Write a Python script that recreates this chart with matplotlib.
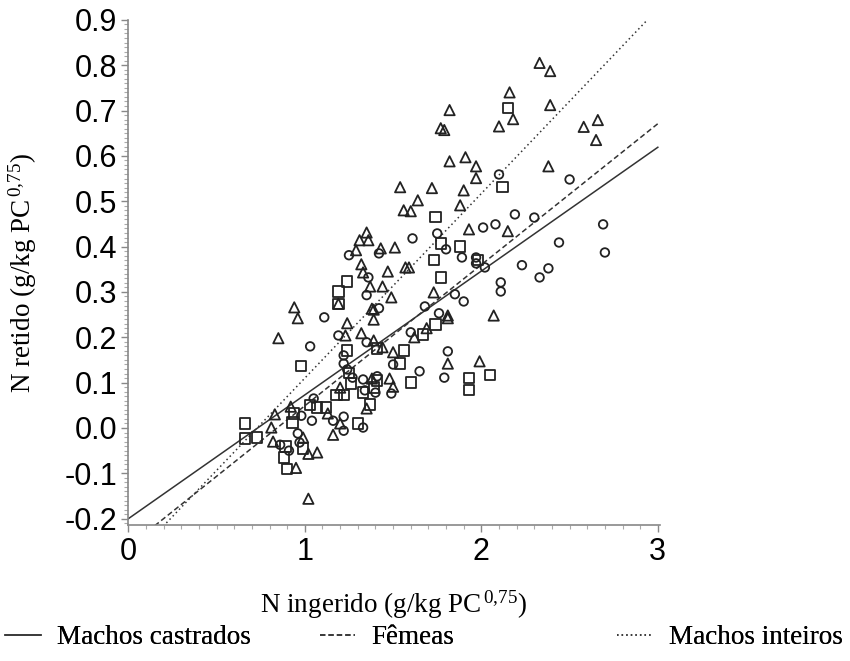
import matplotlib
matplotlib.use("Agg")
import matplotlib.pyplot as plt
import numpy as np
from matplotlib.ticker import MultipleLocator, FormatStrFormatter

plt.rcParams["mathtext.fontset"] = "custom"
plt.rcParams["mathtext.rm"] = "Liberation Serif"
plt.rcParams["mathtext.it"] = "Liberation Serif"

# Machos castrados (circles)
castrados_x = [2.10, 2.50, 2.19, 2.30, 2.01, 2.08, 1.75, 1.80, 2.69, 2.44, 2.70, 1.89, 1.97, 1.97,
               2.02, 2.23, 2.33, 2.38, 2.11, 2.11, 1.85, 1.90, 1.76, 1.68, 1.61, 1.42, 1.25, 1.35,
               1.42, 1.19, 1.35, 1.50, 1.65, 1.60, 1.81, 1.79, 1.22, 1.22, 1.24, 1.27, 1.33, 1.41,
               1.40, 1.49, 1.34, 1.22, 1.16, 1.22, 1.33, 1.11, 1.03, 1.05, 0.98, 1.04, 0.96, 0.97,
               0.86, 0.91, 1.36]
castrados_y = [0.559, 0.548, 0.471, 0.464, 0.442, 0.449, 0.429, 0.394, 0.449, 0.409, 0.387, 0.376,
               0.376, 0.363, 0.354, 0.359, 0.332, 0.352, 0.321, 0.301, 0.295, 0.279, 0.253, 0.268,
               0.418, 0.385, 0.381, 0.293, 0.264, 0.204, 0.189, 0.140, 0.125, 0.211, 0.169, 0.111,
               0.160, 0.142, 0.129, 0.111, 0.107, 0.114, 0.078, 0.076, 0.083, 0.025, 0.016, -0.006,
               0.001, 0.244, 0.180, 0.065, 0.027, 0.016, -0.012, -0.032, -0.037, -0.050, 0.332]

# Fêmeas (squares)
femeas_x = [2.15, 2.12, 1.74, 1.77, 1.88, 1.73, 1.98, 1.77, 1.24, 1.19, 1.19, 1.74, 1.67, 1.56,
            1.41, 1.54, 1.60, 2.05, 1.93, 1.93, 1.24, 1.25, 1.26, 1.39, 1.33, 1.18, 1.22, 1.37,
            1.30, 0.98, 1.03, 1.07, 1.12, 0.94, 0.93, 0.66, 0.66, 0.73, 0.89, 0.99, 0.88, 0.90,
            1.41]
femeas_y = [0.705, 0.531, 0.465, 0.407, 0.400, 0.370, 0.370, 0.332, 0.323, 0.301, 0.274, 0.228,
            0.206, 0.171, 0.175, 0.142, 0.100, 0.117, 0.111, 0.084, 0.171, 0.122, 0.098, 0.089,
            0.078, 0.072, 0.072, 0.052, 0.010, 0.136, 0.050, 0.045, 0.045, 0.032, 0.012, 0.010,
            -0.023, -0.021, -0.041, -0.045, -0.065, -0.090, 0.105]

# Machos inteiros (triangles)
inteiros_x = [2.33, 2.39, 2.16, 2.39, 2.18, 2.10, 2.58, 2.66, 2.65, 1.82, 1.77, 1.79, 1.82, 1.91,
              1.97, 1.97, 1.90, 1.88, 2.38, 1.72, 1.54, 1.64, 1.56, 1.60, 1.93, 2.15, 1.35, 1.31,
              1.36, 1.29, 1.43, 1.51, 1.32, 1.33, 1.37, 1.47, 1.57, 1.59, 1.44, 1.49, 1.73, 1.38,
              1.39, 1.39, 1.24, 1.23, 1.32, 1.39, 1.44, 1.50, 1.69, 1.62, 1.81, 1.81, 2.07, 1.81,
              1.99, 0.94, 0.96, 0.85, 1.38, 1.48, 1.50, 1.20, 1.13, 0.92, 0.83, 1.20, 1.16, 1.35,
              0.81, 0.82, 0.99, 1.02, 1.07, 0.95, 1.02, 1.19]
inteiros_y = [0.805, 0.787, 0.740, 0.712, 0.681, 0.665, 0.664, 0.679, 0.635, 0.701, 0.661, 0.657,
              0.588, 0.597, 0.577, 0.551, 0.524, 0.491, 0.577, 0.529, 0.531, 0.502, 0.480, 0.478,
              0.438, 0.434, 0.431, 0.414, 0.414, 0.392, 0.396, 0.398, 0.361, 0.343, 0.312, 0.345,
              0.354, 0.354, 0.312, 0.288, 0.299, 0.263, 0.261, 0.239, 0.231, 0.204, 0.209, 0.193,
              0.178, 0.167, 0.220, 0.200, 0.248, 0.242, 0.248, 0.142, 0.147, 0.266, 0.242, 0.198,
              0.109, 0.109, 0.091, 0.089, 0.032, 0.047, 0.030, 0.010, -0.015, 0.043, 0.001, -0.030,
              -0.021, -0.057, -0.054, -0.088, -0.156, 0.274]

# Regression lines (intercept, slope)
groups = ["Machos castrados", "Fêmeas", "Machos inteiros"]
intercepts = [-0.200, -0.262, -0.297]
slopes = [0.273, 0.311, 0.407]

serif = ["Liberation Serif", "DejaVu Serif"]
sans = ["Liberation Sans", "DejaVu Sans"]

fig = plt.figure(figsize=(8.5, 6.61), dpi=100)
ax = fig.add_axes([0.151, 0.205, 0.625, 0.765])

mk = dict(facecolors="none", edgecolors="#222222", linewidths=1.3, zorder=3)
ax.scatter(castrados_x, castrados_y, marker="o", s=38, **mk)
ax.scatter(femeas_x, femeas_y, marker="s", s=55, **mk)
ax.scatter(inteiros_x, inteiros_y, marker="^", s=55, **mk)

xs = np.linspace(0, 3, 200)
styles = ["-", (0, (3.5, 2)), (0, (1, 2))]
handles = []
for b0, b1, ls in zip(intercepts, slopes, styles):
    h, = ax.plot(xs, b0 + b1 * xs, color="#333333", lw=1.1, ls=ls, zorder=2)
    handles.append(h)

ax.set_xlim(0, 3.01)
ax.set_ylim(-0.215, 0.9)
ax.xaxis.set_major_locator(MultipleLocator(1))
ax.xaxis.set_minor_locator(MultipleLocator(0.1))
ax.set_yticks(np.round(np.arange(-0.2, 0.91, 0.1), 1))
ax.yaxis.set_minor_locator(MultipleLocator(0.01))
ax.yaxis.set_major_formatter(FormatStrFormatter("%.1f"))
for s in ["top", "right"]:
    ax.spines[s].set_visible(False)
for s in ["left", "bottom"]:
    ax.spines[s].set_color("#888888")
    ax.spines[s].set_linewidth(1.2)
ax.tick_params(which="major", length=5, color="#888888", width=1.0, labelsize=22, pad=3)
ax.tick_params(which="minor", length=3, color="#aaaaaa", width=0.8)
for lab in ax.get_xticklabels() + ax.get_yticklabels():
    lab.set_family(sans)

ax.set_xlabel(r"N ingerido (g/kg PC$^{\,0{,}75}$)", family=serif, fontsize=19.5, labelpad=16)
ax.set_ylabel(r"N retido (g/kg PC$^{\,0{,}75}$)", family=serif, fontsize=19.5, labelpad=18)

positions = [(0.0, 0.035), (0.37, 0.035), (0.72, 0.035)]
for h, g, pos in zip(handles, groups, positions):
    leg = fig.legend([h], [g], loc="center left", bbox_to_anchor=pos, frameon=False,
                     prop={"family": serif, "size": 19.5}, handlelength=1.3,
                     handletextpad=0.6, borderaxespad=0, borderpad=0.2)
    fig.add_artist(leg)

fig.savefig("out.png", dpi=100)
